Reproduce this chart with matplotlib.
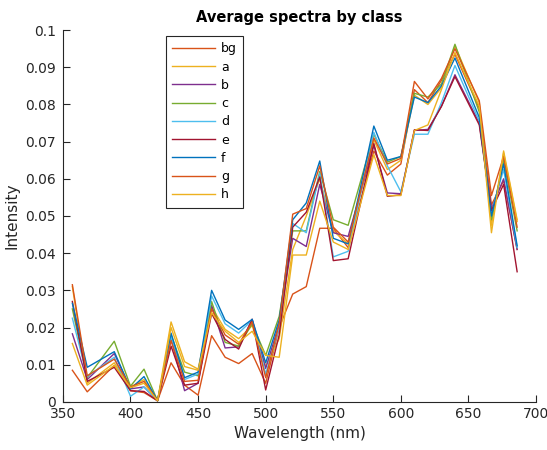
import matplotlib
matplotlib.use("Agg")
import matplotlib.pyplot as plt
from matplotlib.ticker import FuncFormatter


# =========================
# DATA
# =========================
wavelength = [357, 368, 388, 400, 410, 420, 430, 440, 450, 460, 470, 480, 490, 500,
              510, 520, 530, 540, 550, 561, 580, 590, 600, 610, 620, 630, 640, 658,
              667, 676, 686]

bg = [0.0085, 0.0027, 0.0098, 0.0030, 0.0025, 0.0003, 0.0105, 0.0045, 0.0018, 0.0178,
      0.0120, 0.0103, 0.0130, 0.0050, 0.0200, 0.0290, 0.0310, 0.0467, 0.0467, 0.0415,
      0.0675, 0.0610, 0.0640, 0.0840, 0.0805, 0.0865, 0.0935, 0.0790, 0.0530, 0.0595,
      0.0410]
a = [0.0310, 0.0050, 0.0105, 0.0040, 0.0060, 0.0003, 0.0215, 0.0108, 0.0088, 0.0255,
     0.0195, 0.0170, 0.0205, 0.0095, 0.0170, 0.0410, 0.0500, 0.0600, 0.0460, 0.0425,
     0.0705, 0.0625, 0.0650, 0.0825, 0.0800, 0.0845, 0.0958, 0.0805, 0.0475, 0.0670,
     0.0485]
b = [0.0183, 0.0060, 0.0130, 0.0035, 0.0040, 0.0003, 0.0170, 0.0030, 0.0050, 0.0260,
     0.0145, 0.0148, 0.0222, 0.0090, 0.0210, 0.0440, 0.0418, 0.0585, 0.0455, 0.0445,
     0.0690, 0.0562, 0.0560, 0.0730, 0.0733, 0.0795, 0.0880, 0.0750, 0.0520, 0.0600,
     0.0410]
c = [0.0250, 0.0065, 0.0163, 0.0042, 0.0088, 0.0003, 0.0180, 0.0080, 0.0070, 0.0270,
     0.0160, 0.0150, 0.0210, 0.0125, 0.0230, 0.0460, 0.0460, 0.0620, 0.0490, 0.0475,
     0.0720, 0.0645, 0.0660, 0.0830, 0.0820, 0.0855, 0.0962, 0.0780, 0.0490, 0.0650,
     0.0460]
d = [0.0225, 0.0068, 0.0120, 0.0015, 0.0040, 0.0003, 0.0175, 0.0060, 0.0075, 0.0285,
     0.0210, 0.0185, 0.0220, 0.0075, 0.0200, 0.0480, 0.0455, 0.0615, 0.0390, 0.0405,
     0.0725, 0.0635, 0.0565, 0.0720, 0.0720, 0.0805, 0.0905, 0.0755, 0.0510, 0.0625,
     0.0415]
e = [0.0270, 0.0055, 0.0093, 0.0030, 0.0028, 0.0003, 0.0150, 0.0045, 0.0050, 0.0238,
     0.0168, 0.0142, 0.0222, 0.0032, 0.0180, 0.0470, 0.0510, 0.0605, 0.0380, 0.0385,
     0.0695, 0.0553, 0.0557, 0.0732, 0.0730, 0.0795, 0.0875, 0.0745, 0.0515, 0.0585,
     0.0350]
f = [0.0265, 0.0093, 0.0135, 0.0035, 0.0068, 0.0003, 0.0185, 0.0065, 0.0080, 0.0300,
     0.0220, 0.0195, 0.0222, 0.0105, 0.0220, 0.0490, 0.0535, 0.0648, 0.0440, 0.0425,
     0.0742, 0.0650, 0.0660, 0.0820, 0.0805, 0.0850, 0.0925, 0.0765, 0.0500, 0.0640,
     0.0420]
g = [0.0315, 0.0070, 0.0115, 0.0040, 0.0055, 0.0003, 0.0165, 0.0055, 0.0058, 0.0250,
     0.0180, 0.0155, 0.0215, 0.0065, 0.0210, 0.0505, 0.0520, 0.0635, 0.0470, 0.0430,
     0.0710, 0.0640, 0.0655, 0.0862, 0.0815, 0.0870, 0.0950, 0.0810, 0.0555, 0.0660,
     0.0470]
h = [0.0157, 0.0045, 0.0098, 0.0038, 0.0050, 0.0003, 0.0200, 0.0095, 0.0085, 0.0240,
     0.0190, 0.0160, 0.0190, 0.0125, 0.0120, 0.0395, 0.0395, 0.0540, 0.0430, 0.0410,
     0.0665, 0.0555, 0.0555, 0.0730, 0.0745, 0.0840, 0.0940, 0.0795, 0.0455, 0.0675,
     0.0490]

labels = ["bg", "a", "b", "c", "d", "e", "f", "g", "h"]
series = [bg, a, b, c, d, e, f, g, h]

# MATLAB default colour order, starting from the second entry
colors = ["#D95319", "#EDB120", "#7E2F8E", "#77AC30", "#4DBEEE",
          "#A2142F", "#0072BD", "#D95319", "#EDB120"]


# =========================
# PLOT
# =========================
fig = plt.figure(figsize=(5.47, 4.5), dpi=100)
ax = fig.add_axes([0.115, 0.107, 0.865, 0.826])

for vals, lab, col in zip(series, labels, colors):
    ax.plot(wavelength, vals, color=col, linewidth=1.0, label=lab)

ax.set_xlim(350, 700)
ax.set_ylim(0, 0.1)
ax.set_xticks(range(350, 701, 50))
ax.set_yticks([i / 100 for i in range(11)])
ax.yaxis.set_major_formatter(FuncFormatter(lambda v, p: f"{v:.2f}".rstrip("0").rstrip(".") if v else "0"))

axis_col = "#262626"
for side in ["top", "right"]:
    ax.spines[side].set_visible(False)
for side in ["left", "bottom"]:
    ax.spines[side].set_color(axis_col)
    ax.spines[side].set_linewidth(0.8)
ax.tick_params(direction="in", length=5, width=0.8, colors=axis_col,
               labelsize=10, labelcolor="#262626")
ax.tick_params(axis="y", pad=5)

ax.set_title("Average spectra by class", fontsize=10.5, fontweight="bold", pad=6)
ax.set_xlabel("Wavelength (nm)", fontsize=11, color="#262626")
ax.set_ylabel("Intensity", fontsize=11, color="#262626")

leg = ax.legend(loc="upper left", bbox_to_anchor=(0.218, 0.984), fontsize=9,
                frameon=True, fancybox=False, edgecolor="#262626", framealpha=1,
                handlelength=3.4, handletextpad=0.5, labelspacing=0.42,
                borderpad=0.5, borderaxespad=0)
leg.get_frame().set_linewidth(0.8)

fig.savefig("out.png", dpi=100)
